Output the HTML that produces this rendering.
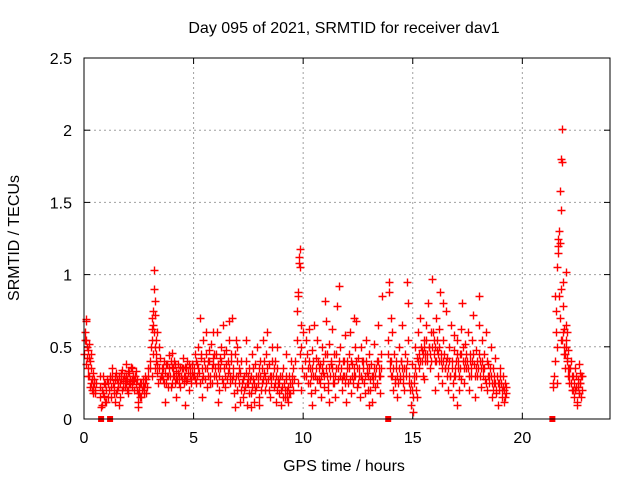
<!DOCTYPE html>
<html><head><meta charset="utf-8"><style>
body{margin:0;background:#fff;}
svg{display:block;font-family:"Liberation Sans",sans-serif;}
</style></head><body>
<svg id="chart" width="640" height="480" viewBox="0 0 640 480">
<rect width="640" height="480" fill="#fff"/>
<text x="344" y="33" font-size="16" text-anchor="middle" fill="#000">Day 095 of 2021, SRMTID for receiver dav1</text>
<text x="344" y="471" font-size="16" text-anchor="middle" fill="#000">GPS time / hours</text>
<text transform="translate(19,238) rotate(-90)" font-size="16" text-anchor="middle" fill="#000">SRMTID / TECUs</text>
<g id="grid"></g>
<g id="ticks"></g>
<g id="points"></g>
<rect x="84" y="58" width="526" height="361" fill="none" stroke="#000" stroke-width="1"/>
</svg>
<script>
const xTicks=[0,5,10,15,20];
const yTicks=[0,0.5,1,1.5,2,2.5];
const yTickLabels=["0","0.5","1","1.5","2","2.5"];
const zeroTimes=[0.78,1.19,13.88,21.37];
const times=[
0.02,0.05,0.08,0.1,0.12,0.14,0.17,0.2,0.22,0.25,0.28,0.3,0.33,0.36,0.4,0.43,0.47,0.5,0.53,
0.72,0.75,0.8,0.85,0.9,0.95,1.0,1.05,1.1,0.78,0.88,0.98,
1.15,1.2,1.25,1.3,1.35,1.4,1.45,1.5,1.55,1.6,1.65,1.7,1.75,1.8,1.85,1.9,1.95,2.0,2.05,2.1,2.15,2.2,2.25,2.3,2.35,2.4,2.45,2.5,2.55,2.6,2.65,2.7,2.75,2.8,2.85,2.9,1.4,1.6,2.0,2.2,1.9,2.45,
3.0,3.05,3.1,3.12,3.15,3.18,3.2,3.22,3.25,3.27,3.3,3.32,3.35,3.4,3.45,3.5,3.15,3.25,3.1,3.38,
3.55,3.6,3.65,3.7,3.75,3.8,3.85,3.9,3.95,4.0,4.05,4.1,4.15,4.2,4.25,4.3,4.35,4.4,4.45,4.5,4.55,4.6,4.65,4.7,4.75,4.8,4.85,4.9,4.95,3.7,4.2,4.6,4.0,
5.0,5.05,5.1,5.15,5.2,5.25,5.3,5.35,5.4,5.45,5.5,5.55,5.6,5.65,5.7,5.75,5.8,5.85,5.9,5.95,6.0,6.05,6.1,6.15,6.2,6.25,6.3,6.35,6.4,6.45,6.5,6.55,6.6,6.65,6.7,6.75,6.8,6.85,6.9,6.95,7.0,7.05,7.1,7.15,7.2,5.4,6.1,6.9,5.9,6.6,
7.25,7.3,7.35,7.4,7.45,7.5,7.55,7.6,7.65,7.7,7.75,7.8,7.85,7.9,7.95,8.0,8.05,8.1,8.15,8.2,8.25,8.3,8.35,8.4,8.45,8.5,8.55,8.6,8.65,8.7,8.75,8.8,8.85,8.9,8.95,9.0,9.05,9.1,9.15,9.2,9.25,9.3,9.35,9.4,9.45,9.5,9.55,7.6,8.0,8.8,9.2,7.0,7.4,
9.65,9.7,9.72,9.75,9.78,9.8,9.82,9.85,9.87,9.9,9.92,9.95,10.0,10.05,9.75,9.85,9.9,
10.1,10.15,10.2,10.25,10.3,10.35,10.4,10.45,10.5,10.55,10.6,10.65,10.7,10.75,10.8,10.85,10.9,10.95,11.0,11.05,11.1,11.15,11.2,11.25,11.3,11.35,11.4,11.45,11.5,11.55,11.6,11.65,11.7,11.75,11.8,11.85,11.9,11.95,12.0,12.05,12.1,12.15,12.2,12.25,12.3,12.35,12.4,12.45,12.5,12.55,12.6,12.65,12.7,12.75,12.8,12.85,12.9,12.95,13.0,13.05,13.1,13.15,13.2,13.25,13.3,13.35,13.4,13.45,13.5,13.55,13.6,11.0,12.3,10.4,11.2,13.0,
13.85,13.9,13.92,13.95,14.0,14.05,14.1,14.15,14.2,14.25,14.3,14.35,14.4,14.45,14.5,14.55,14.6,14.65,14.7,14.75,14.78,14.8,14.85,14.9,14.95,15.0,15.05,15.1,15.15,15.2,15.25,15.3,15.35,15.4,15.45,15.5,15.55,15.6,15.65,15.7,15.75,15.8,15.85,15.9,15.95,16.0,16.05,16.1,16.15,16.2,16.25,16.3,16.35,16.4,16.45,16.5,16.55,16.6,16.65,16.7,16.75,16.8,16.85,16.9,16.95,17.0,17.05,17.1,17.15,17.2,17.25,17.3,17.35,17.4,17.45,17.5,17.55,17.6,17.65,17.7,17.75,17.8,17.85,17.9,17.95,18.0,18.05,18.1,18.15,18.2,18.25,18.3,18.35,18.4,18.45,18.5,18.55,18.6,18.65,18.7,18.75,18.8,18.85,18.9,18.95,19.0,19.05,19.1,19.15,19.2,19.25,16.0,16.4,15.2,17.0,18.0,14.0,16.9,15.5,16.2,17.2,
21.4,21.45,21.5,21.52,21.55,21.58,21.6,21.62,21.65,21.68,21.72,21.75,21.78,21.8,21.82,21.85,21.88,21.9,21.92,21.95,21.98,22.0,22.03,22.05,22.08,22.1,22.13,22.15,22.2,22.25,22.3,22.35,22.4,22.45,22.5,22.55,22.6,22.62,22.65,22.68,22.7,22.72,22.5,22.6,21.75,22.0,22.4,21.85,21.7
];
const values=[
0.45,0.55,0.68,0.69,0.42,0.5,0.35,0.48,0.52,0.3,0.4,0.25,0.45,0.2,0.32,0.22,0.28,0.18,0.25,
0.15,0.22,0.1,0.18,0.25,0.12,0.2,0.28,0.15,0.08,0.3,0.24,
0.2,0.3,0.22,0.35,0.18,0.27,0.32,0.2,0.25,0.3,0.15,0.28,0.34,0.22,0.26,0.3,0.2,0.33,0.25,0.28,0.36,0.22,0.3,0.27,0.33,0.2,0.12,0.18,0.25,0.15,0.2,0.28,0.22,0.3,0.18,0.35,0.12,0.1,0.18,0.35,0.38,0.08,
0.4,0.5,0.62,0.7,0.75,0.9,1.03,0.82,0.72,0.55,0.45,0.6,0.38,0.5,0.42,0.3,0.45,0.35,0.3,0.25,
0.35,0.28,0.4,0.32,0.25,0.38,0.3,0.44,0.22,0.36,0.3,0.4,0.25,0.33,0.28,0.38,0.3,0.22,0.35,0.42,0.3,0.36,0.26,0.4,0.32,0.2,0.35,0.28,0.38,0.12,0.15,0.1,0.46,
0.3,0.45,0.25,0.38,0.5,0.32,0.7,0.42,0.28,0.55,0.35,0.6,0.22,0.4,0.48,0.3,0.52,0.25,0.38,0.45,0.3,0.6,0.35,0.2,0.42,0.5,0.28,0.65,0.35,0.22,0.48,0.32,0.55,0.25,0.4,0.7,0.3,0.18,0.45,0.55,0.2,0.35,0.12,0.4,0.25,0.15,0.12,0.08,0.6,0.68,
0.15,0.3,0.22,0.4,0.1,0.25,0.35,0.18,0.45,0.28,0.12,0.38,0.22,0.5,0.3,0.15,0.4,0.25,0.55,0.32,0.2,0.45,0.6,0.28,0.38,0.15,0.3,0.5,0.22,0.4,0.12,0.35,0.25,0.18,0.3,0.1,0.22,0.35,0.15,0.28,0.2,0.12,0.3,0.18,0.4,0.25,0.35,0.08,0.1,0.5,0.45,0.5,0.55,
0.4,0.55,0.75,0.88,0.85,1.08,1.12,1.18,1.05,0.65,0.5,0.35,0.6,0.3,0.25,0.45,0.2,
0.4,0.55,0.25,0.62,0.35,0.18,0.48,0.3,0.65,0.2,0.42,0.55,0.28,0.38,0.15,0.5,0.32,0.22,0.45,0.68,0.3,0.2,0.52,0.38,0.62,0.25,0.45,0.15,0.35,0.78,0.28,0.92,0.5,0.2,0.4,0.3,0.58,0.12,0.35,0.25,0.45,0.6,0.18,0.38,0.3,0.5,0.68,0.22,0.42,0.3,0.15,0.5,0.28,0.4,0.18,0.55,0.32,0.2,0.45,0.28,0.38,0.12,0.3,0.52,0.22,0.4,0.65,0.3,0.18,0.45,0.85,0.82,0.7,0.1,0.12,0.1,
0.55,0.95,0.88,0.4,0.3,0.6,0.2,0.45,0.25,0.35,0.15,0.5,0.28,0.4,0.65,0.3,0.2,0.45,0.35,0.95,0.8,0.55,0.25,0.1,0.38,0.05,0.3,0.5,0.2,0.42,0.6,0.35,0.7,0.48,0.3,0.55,0.4,0.65,0.45,0.8,0.5,0.35,0.6,0.97,0.55,0.4,0.7,0.48,0.3,0.62,0.88,0.45,0.25,0.55,0.35,0.75,0.42,0.2,0.5,0.3,0.65,0.4,0.15,0.48,0.3,0.55,0.35,0.2,0.45,0.62,0.8,0.4,0.25,0.52,0.35,0.6,0.2,0.45,0.3,0.55,0.72,0.38,0.15,0.48,0.3,0.85,0.4,0.22,0.55,0.35,0.45,0.28,0.6,0.2,0.38,0.3,0.5,0.15,0.35,0.25,0.42,0.18,0.3,0.1,0.25,0.35,0.2,0.3,0.12,0.25,0.18,0.2,0.8,0.15,0.1,0.65,0.7,0.58,0.28,0.4,0.28,
0.22,0.3,0.85,0.75,0.6,0.5,0.25,1.15,1.25,1.3,1.58,1.45,1.8,2.01,1.78,0.95,0.62,0.5,0.45,0.35,0.55,1.02,0.6,0.42,0.3,0.48,0.35,0.25,0.4,0.2,0.3,0.15,0.35,0.22,0.12,0.28,0.18,0.32,0.25,0.15,0.3,0.2,0.1,0.38,0.9,0.65,0.2,0.78,1.22
];
const times2=[
0.03,0.07,0.11,0.16,0.21,0.26,0.31,0.37,0.42,0.46,0.51,
0.74,0.83,0.93,1.02,1.08,
1.17,1.22,1.27,1.32,1.37,1.42,1.47,1.52,1.57,1.62,1.67,1.72,1.77,1.82,1.87,1.92,1.97,2.02,2.07,2.12,2.17,2.22,2.27,2.32,2.37,2.42,2.47,2.52,2.57,2.62,2.67,2.72,2.77,2.82,2.87,2.92,
3.02,3.08,3.14,3.19,3.23,3.28,3.33,3.42,3.48,
3.57,3.62,3.67,3.72,3.77,3.82,3.87,3.92,3.97,4.02,4.07,4.12,4.17,4.22,4.27,4.32,4.37,4.42,4.47,4.52,4.57,4.62,4.67,4.72,4.77,4.82,4.87,4.92,4.97,
5.02,5.07,5.12,5.17,5.22,5.27,5.32,5.37,5.42,5.47,5.52,5.57,5.62,5.67,5.72,5.77,5.82,5.87,5.92,5.97,6.02,6.07,6.12,6.17,6.22,6.27,6.32,6.37,6.42,6.47,6.52,6.57,6.62,6.67,6.72,6.77,6.82,6.87,6.92,6.97,7.02,7.07,7.12,7.17,
7.27,7.32,7.37,7.42,7.47,7.52,7.57,7.62,7.67,7.72,7.77,7.82,7.87,7.92,7.97,8.02,8.07,8.12,8.17,8.22,8.27,8.32,8.37,8.42,8.47,8.52,8.57,8.62,8.67,8.72,8.77,8.82,8.87,8.92,8.97,9.02,9.07,9.12,9.17,9.22,9.27,9.32,9.37,9.42,9.47,9.52,9.57,
10.12,10.17,10.22,10.27,10.32,10.37,10.42,10.47,10.52,10.57,10.62,10.67,10.72,10.77,10.82,10.87,10.92,10.97,11.02,11.07,11.12,11.17,11.22,11.27,11.32,11.37,11.42,11.47,11.52,11.57,11.62,11.67,11.72,11.77,11.82,11.87,11.92,11.97,12.02,12.07,12.12,12.17,12.22,12.27,12.32,12.37,12.42,12.47,12.52,12.57,12.62,12.67,12.72,12.77,12.82,12.87,12.92,12.97,13.02,13.07,13.12,13.17,13.22,13.27,13.32,13.37,13.42,13.47,13.52,13.57,
13.88,13.97,14.02,14.07,14.12,14.17,14.22,14.27,14.32,14.37,14.42,14.47,14.52,14.57,14.62,14.67,14.72,14.82,14.87,14.92,14.97,15.02,15.07,15.12,15.17,15.22,15.27,15.32,15.37,15.42,15.47,15.52,15.57,15.62,15.67,15.72,15.77,15.82,15.87,15.92,15.97,16.02,16.07,16.12,16.17,16.22,16.27,16.32,16.37,16.42,16.47,16.52,16.57,16.62,16.67,16.72,16.77,16.82,16.87,16.92,16.97,17.02,17.07,17.12,17.17,17.22,17.27,17.32,17.37,17.42,17.47,17.52,17.57,17.62,17.67,17.72,17.77,17.82,17.87,17.92,17.97,18.02,18.07,18.12,18.17,18.22,18.27,18.32,18.37,18.42,18.47,18.52,18.57,18.62,18.67,18.72,18.77,18.82,18.87,18.92,18.97,19.02,19.07,19.12,19.17,19.22,19.27,
21.42,21.47,21.57,21.63,21.67,21.73,21.77,21.83,21.87,21.93,21.97,22.02,22.07,22.12,22.17,22.22,22.27,22.32,22.37,22.42,22.47,22.52,22.57,22.63,22.67
];
const values2=[
0.6,0.38,0.55,0.3,0.42,0.22,0.35,0.28,0.18,0.25,0.2,
0.3,0.2,0.16,0.12,0.25,
0.28,0.15,0.3,0.25,0.22,0.3,0.18,0.28,0.22,0.25,0.32,0.2,0.28,0.3,0.22,0.25,0.28,0.2,0.32,0.24,0.28,0.26,0.2,0.3,0.24,0.28,0.18,0.22,0.15,0.25,0.22,0.18,0.25,0.28,0.22,0.3,
0.35,0.55,0.65,0.6,0.5,0.4,0.32,0.35,0.28,
0.3,0.35,0.25,0.38,0.3,0.22,0.35,0.3,0.4,0.25,0.35,0.3,0.38,0.28,0.32,0.25,0.36,0.3,0.28,0.35,0.25,0.3,0.35,0.28,0.38,0.3,0.25,0.32,0.3,
0.35,0.28,0.4,0.3,0.35,0.25,0.45,0.35,0.3,0.4,0.28,0.45,0.35,0.3,0.4,0.25,0.35,0.42,0.3,0.35,0.45,0.25,0.38,0.3,0.35,0.4,0.25,0.45,0.3,0.38,0.28,0.4,0.35,0.3,0.45,0.28,0.35,0.25,0.3,0.4,0.3,0.25,0.32,0.2,
0.28,0.2,0.32,0.25,0.3,0.18,0.28,0.3,0.22,0.35,0.25,0.2,0.3,0.25,0.35,0.3,0.2,0.35,0.28,0.4,0.3,0.25,0.35,0.2,0.3,0.25,0.4,0.3,0.35,0.25,0.3,0.2,0.28,0.25,0.2,0.3,0.15,0.25,0.2,0.3,0.15,0.22,0.18,0.25,0.3,0.2,0.28,
0.3,0.45,0.35,0.4,0.25,0.3,0.35,0.4,0.3,0.35,0.28,0.4,0.35,0.25,0.3,0.35,0.4,0.3,0.35,0.45,0.25,0.35,0.3,0.4,0.35,0.3,0.25,0.3,0.45,0.35,0.4,0.3,0.35,0.28,0.3,0.4,0.25,0.3,0.4,0.35,0.28,0.4,0.3,0.25,0.35,0.3,0.4,0.35,0.25,0.35,0.3,0.4,0.35,0.25,0.3,0.4,0.35,0.3,0.35,0.2,0.3,0.25,0.35,0.3,0.35,0.25,0.4,0.35,0.3,0.35,
0.45,0.35,0.4,0.3,0.35,0.28,0.4,0.3,0.25,0.35,0.3,0.4,0.35,0.25,0.35,0.3,0.4,0.3,0.2,0.25,0.2,0.15,0.25,0.35,0.3,0.4,0.45,0.4,0.5,0.4,0.45,0.5,0.45,0.55,0.4,0.5,0.45,0.4,0.5,0.6,0.45,0.5,0.4,0.55,0.45,0.5,0.4,0.35,0.4,0.45,0.35,0.4,0.3,0.35,0.4,0.3,0.35,0.25,0.3,0.35,0.4,0.45,0.4,0.3,0.35,0.45,0.5,0.35,0.4,0.45,0.4,0.35,0.3,0.4,0.35,0.4,0.45,0.3,0.35,0.4,0.35,0.45,0.3,0.35,0.4,0.3,0.35,0.25,0.4,0.3,0.25,0.35,0.3,0.25,0.2,0.3,0.25,0.2,0.25,0.2,0.3,0.25,0.15,0.22,0.2,0.15,0.22,
0.25,0.4,1.05,1.2,0.85,0.7,0.55,0.55,0.6,0.45,0.5,0.4,0.35,0.3,0.35,0.25,0.3,0.2,0.25,0.2,0.3,0.22,0.18,0.25,0.3
];
const X0=84,X1=610,Y0=419,Y1=58,XMAX=24,YMAX=2.5;
function xs(t){return X0+(t/XMAX)*(X1-X0);}
function ys(v){return Y0-(v/YMAX)*(Y0-Y1);}
const NS="http://www.w3.org/2000/svg";
const grid=document.getElementById('grid'),ticks=document.getElementById('ticks'),pts=document.getElementById('points');
function mk(tag,attrs,parent){const e=document.createElementNS(NS,tag);for(const k in attrs)e.setAttribute(k,attrs[k]);parent.appendChild(e);return e;}
xTicks.forEach(t=>{
  const x=xs(t);
  if(t>0){const g=mk('line',{x1:x,y1:Y0,x2:x,y2:Y1,stroke:'#a0a0a0','stroke-dasharray':'2,3','stroke-width':1},grid);
  
  }
  const a=mk('line',{x1:x,y1:Y0,x2:x,y2:Y0-6,stroke:'#000'},ticks);
  
  
  const b=mk('line',{x1:x,y1:Y1,x2:x,y2:Y1+6,stroke:'#000'},ticks);
  
  
  const l=mk('text',{x:x,y:443,'font-size':16,'text-anchor':'middle',fill:'#000'},ticks);
  l.textContent=String(t);
  
  
});
yTicks.forEach((v,i)=>{
  const y=ys(v);
  if(v>0&&v<YMAX){const g=mk('line',{x1:X0,y1:y,x2:X1,y2:y,stroke:'#a0a0a0','stroke-dasharray':'2,3','stroke-width':1},grid);
  
  }
  const a=mk('line',{x1:X0,y1:y,x2:X0+6,y2:y,stroke:'#000'},ticks);
  
  
  const b=mk('line',{x1:X1,y1:y,x2:X1-6,y2:y,stroke:'#000'},ticks);
  
  
  const l=mk('text',{x:72,y:y+6,'font-size':16,'text-anchor':'end',fill:'#000'},ticks);
  l.textContent=yTickLabels[i];
  
  
});
function drawSeries(ts,vs,name){
  let d='';
  for(let i=0;i<ts.length;i++){
    const x=Math.round(xs(ts[i]))+0.5,y=Math.round(ys(vs[i]))+0.5;
    d+='M'+(x-4)+' '+y+'h8M'+x+' '+(y-4)+'v8';
  }
  const p=mk('path',{d:d,stroke:'#ff0000','stroke-width':1.4,fill:'none'},pts);
  
  
}
drawSeries(times,values,'srmtid-series');
drawSeries(times2,values2,'srmtid-series-extra');
zeroTimes.forEach(t=>{
  const r=mk('rect',{x:xs(t)-3,y:Y0-3,width:6,height:6,fill:'#ff0000'},pts);
  
  
});
</script>
</body></html>
